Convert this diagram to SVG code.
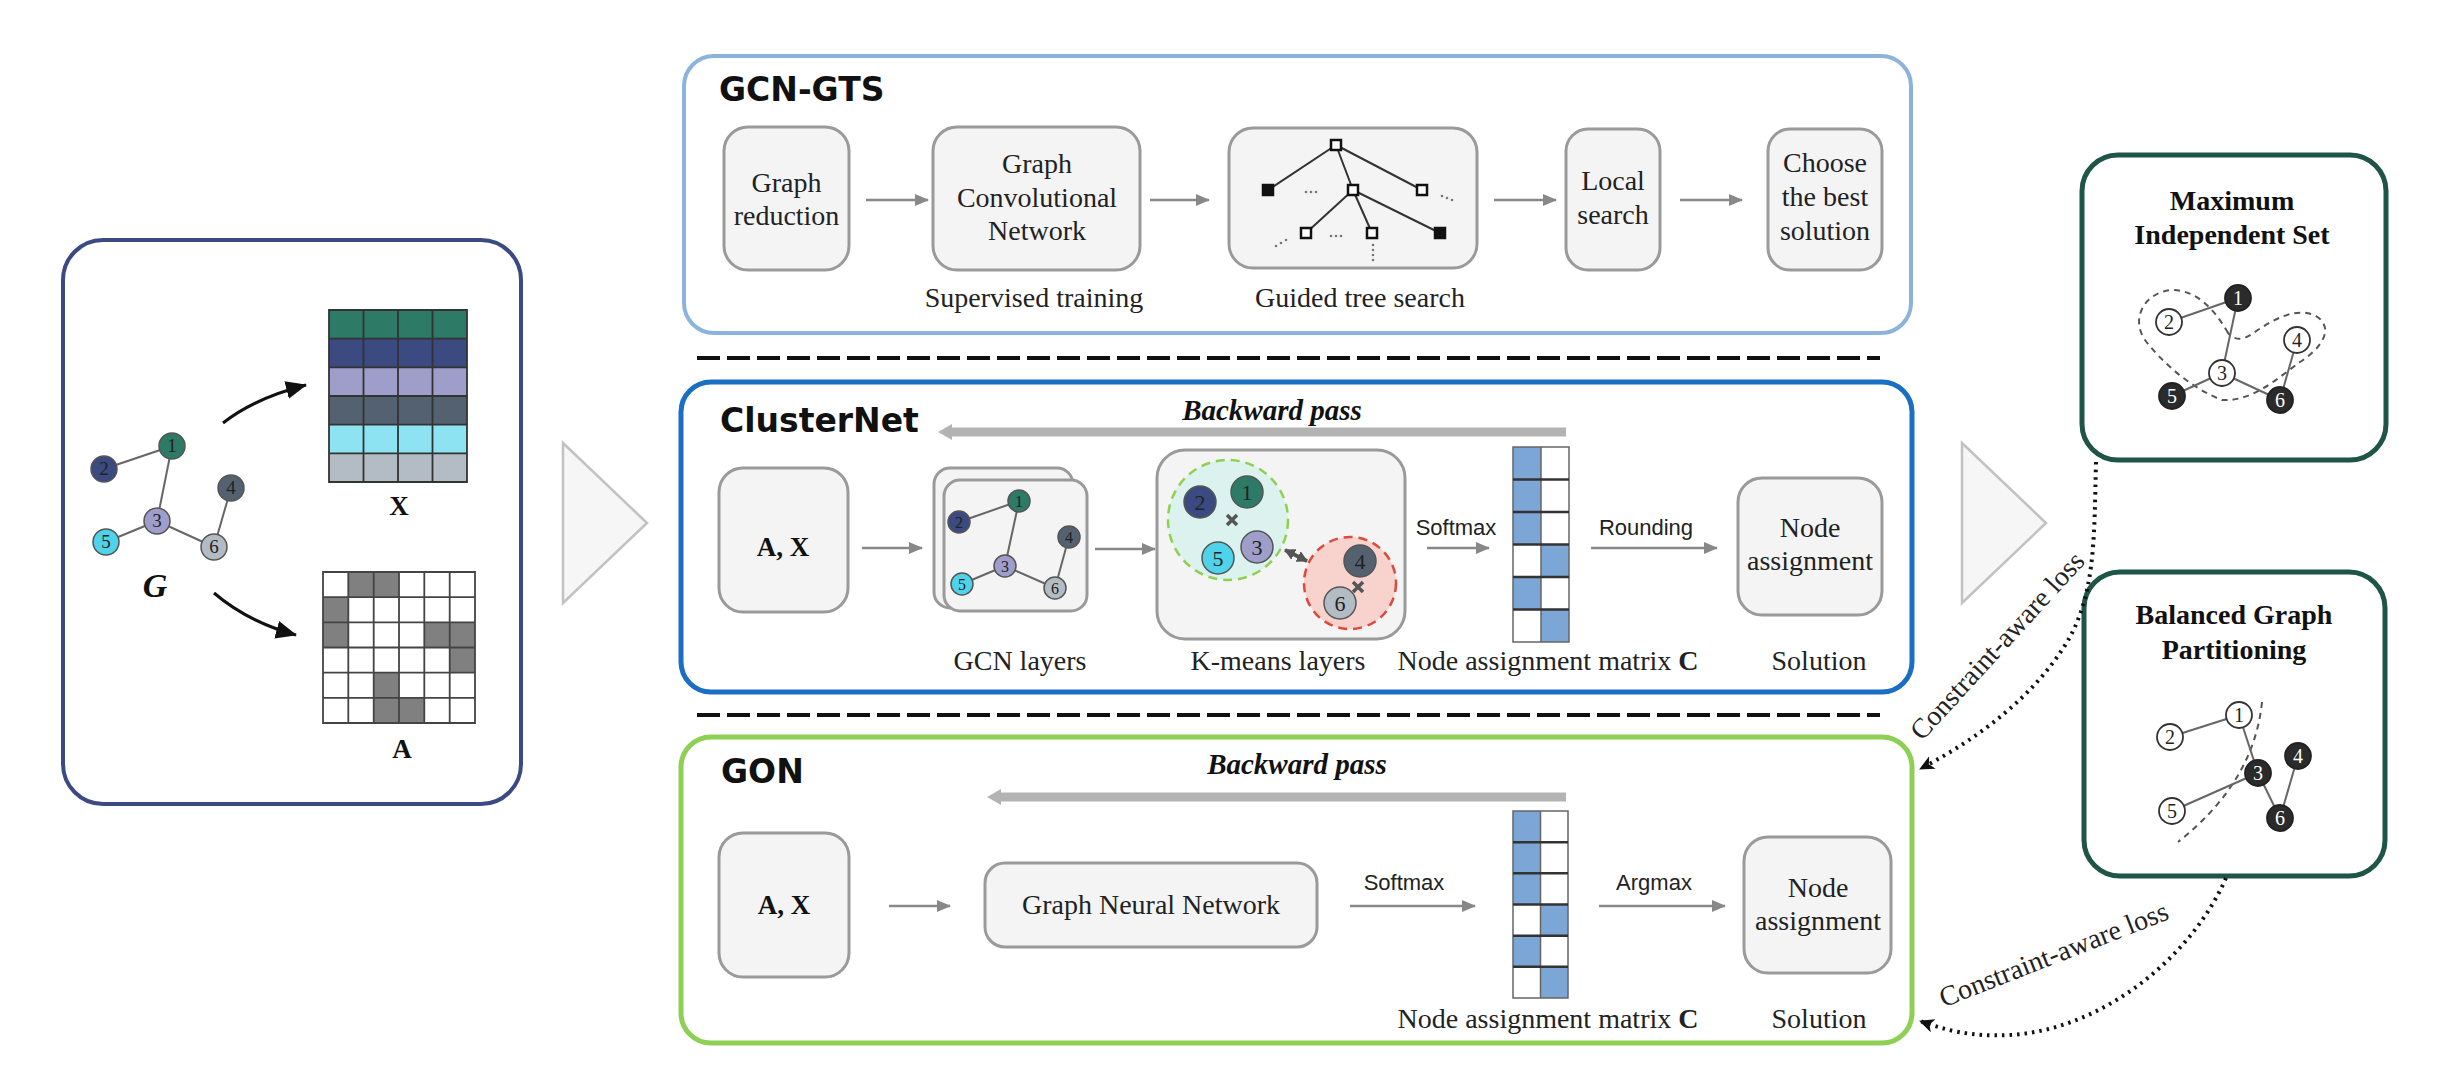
<svg xmlns="http://www.w3.org/2000/svg" width="2448" height="1072" viewBox="0 0 2448 1072">
<defs>
<style>
.box{fill:#f4f4f4;stroke:#9a9a9a;stroke-width:3}
.t{font-family:"Liberation Serif","Times New Roman",serif;font-size:28px;fill:#222;text-anchor:middle}
.h{font-family:"DejaVu Sans","Liberation Sans",sans-serif;font-weight:bold;font-size:33px;fill:#111}
.bp{font-family:"Liberation Serif","Times New Roman",serif;font-weight:bold;font-style:italic;font-size:29px;fill:#111;text-anchor:middle}
.s{font-family:"Liberation Sans",Arial,sans-serif;font-size:22px;fill:#222;text-anchor:middle}
.tb{font-family:"Liberation Serif","Times New Roman",serif;font-weight:bold;font-size:28px;fill:#111;text-anchor:middle}
.n{font-family:"Liberation Serif","Times New Roman",serif;text-anchor:middle;fill:#222}
.nw{font-family:"Liberation Serif","Times New Roman",serif;text-anchor:middle;fill:#fff}
.edge{stroke:#666;stroke-width:2;fill:none}
.arr{stroke:#888;stroke-width:2.5;fill:none;marker-end:url(#ga)}
.dot{stroke:#111;stroke-width:4;fill:none;stroke-dasharray:2.5 5;marker-end:url(#ba)}
.bar{fill:#b3b3b3}
.tri{fill:#f6f6f6;stroke:#c2c2c2;stroke-width:2.5}
.sep{stroke:#111;stroke-width:4;stroke-dasharray:23 7}
.nd{stroke:#555;stroke-width:1.5}
.hol{fill:#fff;stroke:#333;stroke-width:1.8}
.fil{fill:#2b2b2b;stroke:#222;stroke-width:1.8}
.sq{fill:#fff;stroke:#111;stroke-width:2.5}
.sqf{fill:#111;stroke:#111;stroke-width:2.5}
.dd{fill:#777}
</style>
<marker id="ga" markerUnits="userSpaceOnUse" markerWidth="14" markerHeight="14" refX="13" refY="7" orient="auto"><path d="M0,1 L14,7 L0,13 Z" fill="#888"/></marker>
<marker id="ba" markerUnits="userSpaceOnUse" markerWidth="16" markerHeight="16" refX="14" refY="7" orient="auto"><path d="M0,0 L15,7 L0,14 L4,7 Z" fill="#111"/></marker>
<marker id="ka" markerUnits="userSpaceOnUse" markerWidth="22" markerHeight="20" refX="20" refY="9" orient="auto"><path d="M0,0 L21,9 L0,18 Z" fill="#111"/></marker>
<marker id="da" markerUnits="userSpaceOnUse" markerWidth="12" markerHeight="12" refX="10" refY="6" orient="auto-start-reverse"><path d="M0,0 L11,6 L0,12 Z" fill="#555"/></marker>
</defs>
<rect x="0" y="0" width="2448" height="1072" fill="#fff"/>

<!-- Input graph box -->
<g id="input">
<rect x="63" y="240" width="458" height="564" rx="40" fill="#fff" stroke="#3b4a82" stroke-width="4"/>
<g class="edge">
<line x1="104" y1="469" x2="172" y2="446"/>
<line x1="172" y1="446" x2="157" y2="521"/>
<line x1="157" y1="521" x2="106" y2="542"/>
<line x1="157" y1="521" x2="214" y2="547"/>
<line x1="214" y1="547" x2="231" y2="488"/>
</g>
<circle class="nd" cx="172" cy="446" r="13" fill="#2d7a66"/>
<circle class="nd" cx="104" cy="469" r="13" fill="#3b4a80"/>
<circle class="nd" cx="157" cy="521" r="13" fill="#9f9dc9"/>
<circle class="nd" cx="231" cy="488" r="13" fill="#546170"/>
<circle class="nd" cx="106" cy="542" r="13" fill="#4fd3ea"/>
<circle class="nd" cx="214" cy="547" r="13" fill="#b3bcc4"/>
<g class="n" font-size="19">
<text x="172" y="452">1</text><text x="104" y="475">2</text><text x="157" y="527">3</text>
<text x="231" y="494">4</text><text x="106" y="548">5</text><text x="214" y="553">6</text>
</g>
<text x="155" y="597" font-family="Liberation Serif, serif" font-weight="bold" font-style="italic" font-size="34" text-anchor="middle" fill="#111">G</text>
<!-- X matrix -->
<rect x="329" y="310" width="138" height="28.7" fill="#2d7a66"/>
<rect x="329" y="338.7" width="138" height="28.7" fill="#3b4a80"/>
<rect x="329" y="367.4" width="138" height="28.6" fill="#9f9dc9"/>
<rect x="329" y="396" width="138" height="28.7" fill="#546170"/>
<rect x="329" y="424.7" width="138" height="28.7" fill="#8de3f2"/>
<rect x="329" y="453.4" width="138" height="28.6" fill="#b3bcc4"/>
<path d="M329,310 H467 V482 H329 Z M363.5,310 V482 M398,310 V482 M432.5,310 V482 M329,338.7 H467 M329,367.4 H467 M329,396 H467 M329,424.7 H467 M329,453.4 H467" fill="none" stroke="#333" stroke-width="1.8"/>
<text x="399" y="515" font-family="Liberation Serif, serif" font-weight="bold" font-size="27" text-anchor="middle" fill="#111">X</text>
<!-- A matrix -->
<g fill="#808080">
<rect x="348.3" y="572" width="25.4" height="25.2"/><rect x="373.7" y="572" width="25.3" height="25.2"/>
<rect x="323" y="597.2" width="25.3" height="25.1"/>
<rect x="323" y="622.3" width="25.3" height="25.2"/><rect x="424.3" y="622.3" width="25.4" height="25.2"/><rect x="449.7" y="622.3" width="25.3" height="25.2"/>
<rect x="449.7" y="647.5" width="25.3" height="25.2"/>
<rect x="373.7" y="672.7" width="25.3" height="25.1"/>
<rect x="373.7" y="697.8" width="25.3" height="25.2"/><rect x="399" y="697.8" width="25.3" height="25.2"/>
</g>
<path d="M323,572 H475 V723 H323 Z M348.3,572 V723 M373.7,572 V723 M399,572 V723 M424.3,572 V723 M449.7,572 V723 M323,597.2 H475 M323,622.3 H475 M323,647.5 H475 M323,672.7 H475 M323,697.8 H475" fill="none" stroke="#444" stroke-width="1.8"/>
<text x="402" y="758" font-family="Liberation Serif, serif" font-weight="bold" font-size="27" text-anchor="middle" fill="#111">A</text>
<path d="M223,423 Q255,398 306,385" fill="none" stroke="#111" stroke-width="3" marker-end="url(#ka)"/>
<path d="M214,593 Q248,622 296,635" fill="none" stroke="#111" stroke-width="3" marker-end="url(#ka)"/>
</g>

<polygon class="tri" points="563,443 563,603 647,523"/>
<polygon class="tri" points="1962,443 1962,603 2046,523"/>

<!-- GCN-GTS -->
<g id="gcn-gts">
<rect x="684" y="56" width="1227" height="277" rx="30" fill="#fff" stroke="#8cb3db" stroke-width="4"/>
<text class="h" x="719" y="101">GCN-GTS</text>
<g id="gts-reduction"><rect class="box" x="724" y="127" width="125" height="143" rx="24"/>
<text class="t" x="786.5" y="192">Graph</text><text class="t" x="786.5" y="225">reduction</text></g>
<g id="gts-gcn"><rect class="box" x="933" y="127" width="207" height="143" rx="24"/>
<text class="t" x="1037" y="173">Graph</text><text class="t" x="1037" y="207">Convolutional</text><text class="t" x="1037" y="240">Network</text>
<text class="t" x="1034" y="307">Supervised training</text></g>
<g id="gts-tree"><rect class="box" x="1229" y="128" width="248" height="140" rx="24"/>
<g stroke="#333" stroke-width="2">
<line x1="1336" y1="145" x2="1268" y2="190"/><line x1="1336" y1="145" x2="1353" y2="190"/><line x1="1336" y1="145" x2="1422" y2="190"/>
<line x1="1353" y1="190" x2="1306" y2="233"/><line x1="1353" y1="190" x2="1372" y2="233"/><line x1="1353" y1="190" x2="1440" y2="233"/>
</g>
<rect class="sq" x="1331" y="140" width="10" height="10"/>
<rect class="sqf" x="1263" y="185" width="10" height="10"/>
<rect class="sq" x="1348" y="185" width="10" height="10"/>
<rect class="sq" x="1417" y="185" width="10" height="10"/>
<rect class="sq" x="1301" y="228" width="10" height="10"/>
<rect class="sq" x="1367" y="228" width="10" height="10"/>
<rect class="sqf" x="1435" y="228" width="10" height="10"/>
<g class="dd">
<circle cx="1306" cy="192" r="1.3"/><circle cx="1311" cy="192" r="1.3"/><circle cx="1316" cy="192" r="1.3"/>
<circle cx="1442" cy="196" r="1.3"/><circle cx="1447" cy="198" r="1.3"/><circle cx="1452" cy="200" r="1.3"/>
<circle cx="1331" cy="236" r="1.3"/><circle cx="1336" cy="236" r="1.3"/><circle cx="1341" cy="236" r="1.3"/>
<circle cx="1276" cy="246" r="1.3"/><circle cx="1281" cy="243" r="1.3"/><circle cx="1286" cy="240" r="1.3"/>
<circle cx="1373" cy="245" r="1.3"/><circle cx="1373" cy="250" r="1.3"/><circle cx="1373" cy="255" r="1.3"/><circle cx="1373" cy="260" r="1.3"/>
</g>
<text class="t" x="1360" y="307">Guided tree search</text></g>
<g id="gts-local"><rect class="box" x="1566" y="129" width="94" height="141" rx="22"/>
<text class="t" x="1613" y="190">Local</text><text class="t" x="1613" y="224">search</text></g>
<g id="gts-best"><rect class="box" x="1768" y="129" width="114" height="141" rx="22"/>
<text class="t" x="1825" y="172">Choose</text><text class="t" x="1825" y="206">the best</text><text class="t" x="1825" y="240">solution</text></g>
</g>

<line class="sep" x1="697" y1="358" x2="1880" y2="358"/>
<line class="sep" x1="697" y1="715" x2="1880" y2="715"/>

<!-- ClusterNet -->
<g id="clusternet">
<rect x="681" y="382" width="1231" height="310" rx="30" fill="#fff" stroke="#1a6fc4" stroke-width="5"/>
<text class="h" x="720" y="432">ClusterNet</text>
<text class="bp" x="1272" y="420">Backward pass</text>
<polygon class="bar" points="1566,427.5 952,427.5 952,424 938,432 952,440 952,436.5 1566,436.5"/>
<g id="cn-ax"><rect class="box" x="719" y="468" width="129" height="144" rx="24"/>
<text x="783" y="556" font-family="Liberation Serif, serif" font-weight="bold" font-size="27" text-anchor="middle" fill="#111">A, X</text></g>
<g id="cn-gcn">
<rect class="box" x="934" y="468" width="139" height="140" rx="16"/>
<rect class="box" x="944" y="480" width="143" height="131" rx="16"/>
<g class="edge">
<line x1="959" y1="522" x2="1019" y2="501"/><line x1="1019" y1="501" x2="1005" y2="566"/>
<line x1="1005" y1="566" x2="962" y2="584"/><line x1="1005" y1="566" x2="1055" y2="588"/><line x1="1055" y1="588" x2="1069" y2="537"/>
</g>
<circle class="nd" cx="1019" cy="501" r="11" fill="#2d7a66"/>
<circle class="nd" cx="959" cy="522" r="11" fill="#3b4a80"/>
<circle class="nd" cx="1005" cy="566" r="11" fill="#9f9dc9"/>
<circle class="nd" cx="1069" cy="537" r="11" fill="#546170"/>
<circle class="nd" cx="962" cy="584" r="11" fill="#4fd3ea"/>
<circle class="nd" cx="1055" cy="588" r="11" fill="#b3bcc4"/>
<g class="n" font-size="16">
<text x="1019" y="507">1</text><text x="959" y="528">2</text><text x="1005" y="572">3</text>
<text x="1069" y="543">4</text><text x="962" y="590">5</text><text x="1055" y="594">6</text>
</g>
<text class="t" x="1020" y="670">GCN layers</text></g>
<g id="cn-kmeans">
<rect class="box" x="1157" y="450" width="248" height="189" rx="28"/>
<circle cx="1228" cy="520" r="60" fill="#dcf2ee" stroke="#8fd14f" stroke-width="2.5" stroke-dasharray="9 6"/>
<circle cx="1350" cy="583" r="46" fill="#f8d2cd" stroke="#e0483a" stroke-width="2.5" stroke-dasharray="9 6"/>
<circle class="nd" cx="1200" cy="502" r="16" fill="#3b4a80"/>
<circle class="nd" cx="1247" cy="492" r="16" fill="#2d7a66"/>
<circle class="nd" cx="1218" cy="558" r="16" fill="#4fd3ea"/>
<circle class="nd" cx="1257" cy="547" r="16" fill="#9f9dc9"/>
<circle class="nd" cx="1360" cy="561" r="16" fill="#546170"/>
<circle class="nd" cx="1340" cy="603" r="16" fill="#b3bcc4"/>
<g class="n" font-size="22">
<text x="1200" y="510">2</text><text x="1247" y="500">1</text><text x="1218" y="566">5</text>
<text x="1257" y="555">3</text><text x="1360" y="569">4</text><text x="1340" y="611">6</text>
</g>
<path d="M1227,515 l10,10 M1237,515 l-10,10 M1353,582 l10,10 M1363,582 l-10,10" stroke="#555" stroke-width="3.5"/>
<line x1="1285" y1="550" x2="1307" y2="561" stroke="#555" stroke-width="4" marker-start="url(#da)" marker-end="url(#da)"/>
<text class="t" x="1278" y="670">K-means layers</text></g>
<g id="cn-matrix">
<rect x="1513" y="447" width="56" height="195" fill="#fff"/>
<g fill="#7ba6d6">
<rect x="1513" y="447" width="28" height="32.5"/><rect x="1513" y="479.5" width="28" height="32.5"/><rect x="1513" y="512" width="28" height="32.5"/>
<rect x="1541" y="544.5" width="28" height="32.5"/><rect x="1513" y="577" width="28" height="32.5"/><rect x="1541" y="609.5" width="28" height="32.5"/>
</g>
<path d="M1513,447 H1569 V642 H1513 Z M1541,447 V642" fill="none" stroke="#666" stroke-width="1.5"/>
<path d="M1513,479.5 H1569 M1513,512 H1569 M1513,544.5 H1569 M1513,577 H1569 M1513,609.5 H1569" stroke="#333" stroke-width="2.5"/>
<text class="t" x="1548" y="670">Node assignment matrix <tspan font-weight="bold">C</tspan></text></g>
<g id="cn-solution"><rect class="box" x="1738" y="478" width="144" height="137" rx="24"/>
<text class="t" x="1810" y="537">Node</text><text class="t" x="1810" y="570">assignment</text>
<text class="t" x="1819" y="670">Solution</text></g>
<text class="s" x="1456" y="535">Softmax</text>
<text class="s" x="1646" y="535">Rounding</text>
</g>

<!-- GON -->
<g id="gon">
<rect x="681" y="737" width="1231" height="306" rx="30" fill="#fff" stroke="#8dd054" stroke-width="5"/>
<text class="h" x="721" y="783">GON</text>
<text class="bp" x="1297" y="774">Backward pass</text>
<polygon class="bar" points="1566,792.5 1001,792.5 1001,789 987,797 1001,805 1001,801.5 1566,801.5"/>
<g id="gon-ax"><rect class="box" x="719" y="833" width="130" height="144" rx="24"/>
<text x="784" y="914" font-family="Liberation Serif, serif" font-weight="bold" font-size="27" text-anchor="middle" fill="#111">A, X</text></g>
<g id="gon-gnn"><rect class="box" x="985" y="863" width="332" height="84" rx="20"/>
<text class="t" x="1151" y="914">Graph Neural Network</text></g>
<g id="gon-matrix">
<rect x="1513" y="811" width="55" height="187" fill="#fff"/>
<g fill="#7ba6d6">
<rect x="1513" y="811" width="27.5" height="31.2"/><rect x="1513" y="842.2" width="27.5" height="31.1"/><rect x="1513" y="873.3" width="27.5" height="31.2"/>
<rect x="1540.5" y="904.5" width="27.5" height="31.2"/><rect x="1513" y="935.7" width="27.5" height="31.1"/><rect x="1540.5" y="966.8" width="27.5" height="31.2"/>
</g>
<path d="M1513,811 H1568 V998 H1513 Z M1540.5,811 V998" fill="none" stroke="#666" stroke-width="1.5"/>
<path d="M1513,842.2 H1568 M1513,873.3 H1568 M1513,904.5 H1568 M1513,935.7 H1568 M1513,966.8 H1568" stroke="#333" stroke-width="2.5"/>
<text class="t" x="1548" y="1028">Node assignment matrix <tspan font-weight="bold">C</tspan></text></g>
<g id="gon-solution"><rect class="box" x="1744" y="837" width="147" height="136" rx="24"/>
<text class="t" x="1818" y="897">Node</text><text class="t" x="1818" y="930">assignment</text>
<text class="t" x="1819" y="1028">Solution</text></g>
<text class="s" x="1404" y="890">Softmax</text>
<text class="s" x="1654" y="890">Argmax</text>
</g>

<!-- MIS -->
<g id="mis">
<rect x="2082" y="155" width="304" height="305" rx="36" fill="#fff" stroke="#1f5547" stroke-width="5"/>
<text class="tb" x="2232" y="210">Maximum</text>
<text class="tb" x="2232" y="244">Independent Set</text>
<path d="M2228,333 C2215,310 2197,290 2172,290 C2145,292 2130,318 2145,340 C2160,360 2190,388 2222,400 C2252,402 2278,378 2300,362 C2322,348 2335,328 2316,316 C2296,306 2272,320 2252,334 C2242,341 2234,340 2228,333 Z" fill="none" stroke="#555" stroke-width="2" stroke-dasharray="6 5"/>
<g class="edge" stroke="#444">
<line x1="2169" y1="322" x2="2238" y2="298"/><line x1="2238" y1="298" x2="2222" y2="373"/>
<line x1="2222" y1="373" x2="2172" y2="396"/><line x1="2222" y1="373" x2="2280" y2="400"/><line x1="2280" y1="400" x2="2297" y2="340"/>
</g>
<circle class="fil" cx="2238" cy="298" r="13"/>
<circle class="hol" cx="2169" cy="322" r="13"/>
<circle class="hol" cx="2222" cy="373" r="13"/>
<circle class="hol" cx="2297" cy="340" r="13"/>
<circle class="fil" cx="2172" cy="396" r="13"/>
<circle class="fil" cx="2280" cy="400" r="13"/>
<g font-size="20">
<text class="nw" x="2238" y="305">1</text><text class="n" x="2169" y="329">2</text><text class="n" x="2222" y="380">3</text>
<text class="n" x="2297" y="347">4</text><text class="nw" x="2172" y="403">5</text><text class="nw" x="2280" y="407">6</text>
</g>
</g>

<!-- BGP -->
<g id="bgp">
<rect x="2084" y="572" width="301" height="304" rx="36" fill="#fff" stroke="#1f5547" stroke-width="5"/>
<text class="tb" x="2234" y="624">Balanced Graph</text>
<text class="tb" x="2234" y="659">Partitioning</text>
<path d="M2262,702 Q2254,782 2178,842" fill="none" stroke="#555" stroke-width="2" stroke-dasharray="6 5"/>
<g class="edge" stroke="#444">
<line x1="2170" y1="737" x2="2239" y2="715"/><line x1="2239" y1="715" x2="2258" y2="773"/>
<line x1="2258" y1="773" x2="2172" y2="811"/><line x1="2258" y1="773" x2="2280" y2="818"/><line x1="2280" y1="818" x2="2298" y2="756"/>
</g>
<circle class="hol" cx="2239" cy="715" r="13"/>
<circle class="hol" cx="2170" cy="737" r="13"/>
<circle class="fil" cx="2258" cy="773" r="13"/>
<circle class="fil" cx="2298" cy="756" r="13"/>
<circle class="hol" cx="2172" cy="811" r="13"/>
<circle class="fil" cx="2280" cy="818" r="13"/>
<g font-size="20">
<text class="n" x="2239" y="722">1</text><text class="n" x="2170" y="744">2</text><text class="nw" x="2258" y="780">3</text>
<text class="nw" x="2298" y="763">4</text><text class="n" x="2172" y="818">5</text><text class="nw" x="2280" y="825">6</text>
</g>
</g>

<!-- connectors -->
<g id="connectors">
<line class="arr" x1="866" y1="200" x2="928" y2="200"/>
<line class="arr" x1="1150" y1="200" x2="1209" y2="200"/>
<line class="arr" x1="1494" y1="200" x2="1556" y2="200"/>
<line class="arr" x1="1680" y1="200" x2="1742" y2="200"/>
<line class="arr" x1="862" y1="548" x2="922" y2="548"/>
<line class="arr" x1="1095" y1="549" x2="1155" y2="549"/>
<line class="arr" x1="1427" y1="548" x2="1489" y2="548"/>
<line class="arr" x1="1591" y1="548" x2="1717" y2="548"/>
<line class="arr" x1="889" y1="906" x2="950" y2="906"/>
<line class="arr" x1="1350" y1="906" x2="1475" y2="906"/>
<line class="arr" x1="1599" y1="906" x2="1725" y2="906"/>
<path class="dot" d="M2096,462 C2094,540 2096,600 2062,650 C2032,695 1985,735 1920,769"/>
<path class="dot" d="M2226,878 C2190,960 2100,1030 2010,1035 C1970,1037 1945,1030 1920,1021"/>
<text class="t" transform="translate(2004,652) rotate(-47.6)" x="0" y="0">Constraint-aware loss</text>
<text class="t" transform="translate(2057,963) rotate(-21.4)" x="0" y="0">Constraint-aware loss</text>
</g>
</svg>
